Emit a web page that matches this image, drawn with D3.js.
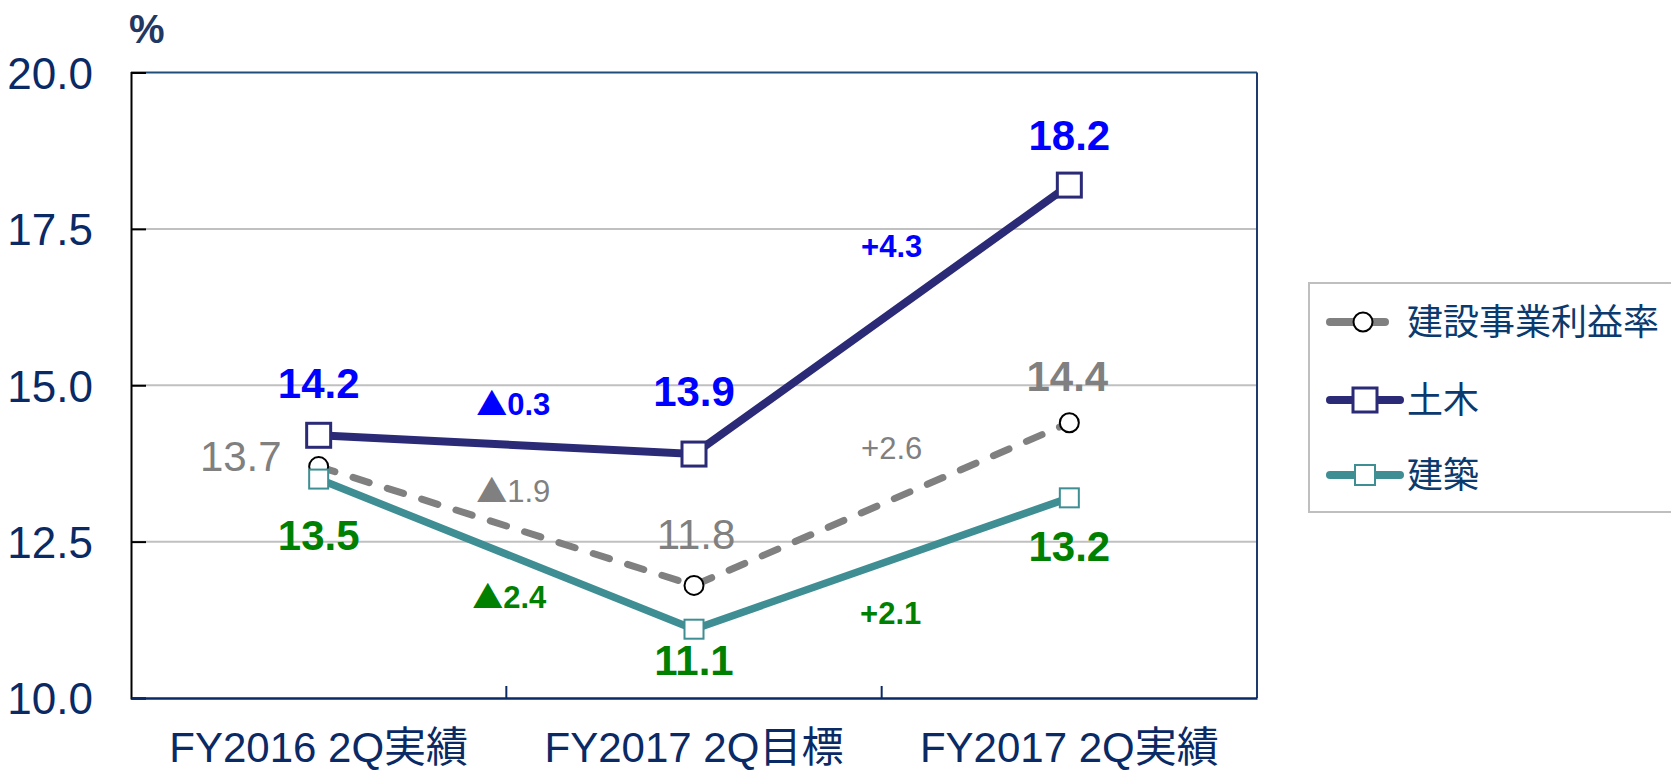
<!DOCTYPE html>
<html><head><meta charset="utf-8">
<script src="https://cdn.jsdelivr.net/npm/d3@7"></script>
<style>
body{margin:0;background:#fff;}
svg{display:block;}
.nar{font-family:"Liberation Sans Narrow","Arial Narrow","Liberation Sans","Noto Sans CJK JP",sans-serif;}
.jp{font-family:"Liberation Sans Narrow","Liberation Sans","Noto Sans CJK JP",sans-serif;}
</style></head>
<body>
<svg id="c" width="1671" height="772"></svg>
<script>
const categories = ["FY2016 2Q実績", "FY2017 2Q目標", "FY2017 2Q実績"];
const seriesNames = ["建設事業利益率", "土木", "建築"];
const rateValues = [13.7, 11.8, 14.4];
const dobokuValues = [14.2, 13.9, 18.2];
const kenchikuValues = [13.5, 11.1, 13.2];
const rateDeltas = ["▲1.9", "+2.6"];
const dobokuDeltas = ["▲0.3", "+4.3"];
const kenchikuDeltas = ["▲2.4", "+2.1"];
const yTicks = [10, 12.5, 15, 17.5, 20];

const svg = d3.select("#c");
const X0 = 131, X1 = 1257, Y0 = 72.5, Y1 = 698;
const x = d3.scaleBand().domain(categories).range([X0, X1]);
const y = d3.scaleLinear().domain([10, 20]).range([Y1, Y0]);
const cx = c => x(c) + x.bandwidth() / 2;

// gridlines
svg.append("g").selectAll("line").data(yTicks.filter(t => t > 10 && t < 20)).join("line")
  .attr("x1", X0).attr("x2", X1).attr("y1", d => y(d)).attr("y2", d => y(d))
  .attr("stroke", "#C0C0C0").attr("stroke-width", 2);

// plot border
svg.append("line").attr("x1", X0).attr("x2", X1).attr("y1", Y0).attr("y2", Y0).attr("stroke", "#1F4E79").attr("stroke-width", 2);
svg.append("line").attr("x1", X1).attr("x2", X1).attr("y1", Y0).attr("y2", Y1).attr("stroke", "#1F3A6E").attr("stroke-width", 2);

// y axis
const yAxis = d3.axisLeft(y).tickValues(yTicks).tickSize(-15).tickFormat(d3.format(".1f")).tickPadding(38);
const ya = svg.append("g").attr("transform", `translate(${X0},0)`).call(yAxis);
ya.select(".domain").attr("stroke", "#000").attr("stroke-width", 2);
ya.selectAll(".tick line").attr("stroke", "#000").attr("stroke-width", 2);
ya.selectAll(".tick text").attr("class", "nar").attr("fill", "#0A2A66").attr("font-size", 44).attr("dy", "0.36em");

// x axis
const xa = svg.append("g").attr("transform", `translate(0,${Y1})`)
  .call(d3.axisBottom(x).tickSize(0).tickPadding(0));
xa.select(".domain").attr("stroke", "#0A2A66").attr("stroke-width", 2.5);
xa.selectAll(".tick text").attr("class", "jp").attr("fill", "#0A2A66").attr("font-size", 42).attr("dy", 0).attr("y", 64);
// boundary ticks
svg.append("g").selectAll("line").data(categories.slice(1)).join("line")
  .attr("x1", d => x(d)).attr("x2", d => x(d)).attr("y1", Y1).attr("y2", Y1 - 12)
  .attr("stroke", "#0A2A66").attr("stroke-width", 2);

svg.append("text").attr("x", 129).attr("y", 43).attr("class", "nar").attr("font-weight", "bold")
  .attr("font-size", 40).attr("fill", "#1F3864").text("%");

const line = d3.line().x((d, i) => cx(categories[i])).y(d => y(d));

// gray dashed
svg.append("path").datum(rateValues).attr("d", line).attr("fill", "none")
  .attr("stroke", "#808080").attr("stroke-width", 7).attr("stroke-dasharray", "17,19").attr("stroke-linecap", "round");
svg.append("g").selectAll("circle").data(rateValues).join("circle")
  .attr("cx", (d, i) => cx(categories[i])).attr("cy", d => y(d)).attr("r", 9.5)
  .attr("fill", "#fff").attr("stroke", "#000").attr("stroke-width", 2);

// navy
svg.append("path").datum(dobokuValues).attr("d", line).attr("fill", "none")
  .attr("stroke", "#2B2A77").attr("stroke-width", 8);
svg.append("g").selectAll("rect").data(dobokuValues).join("rect")
  .attr("x", (d, i) => cx(categories[i]) - 12).attr("y", d => y(d) - 12).attr("width", 24).attr("height", 24)
  .attr("fill", "#fff").attr("stroke", "#2B2A77").attr("stroke-width", 3);

// teal
svg.append("path").datum(kenchikuValues).attr("d", line).attr("fill", "none")
  .attr("stroke", "#3E8E93").attr("stroke-width", 7.5);
svg.append("g").selectAll("rect").data(kenchikuValues).join("rect")
  .attr("x", (d, i) => cx(categories[i]) - 9.5).attr("y", d => y(d) - 9.5).attr("width", 19).attr("height", 19)
  .attr("fill", "#fff").attr("stroke", "#3E8E93").attr("stroke-width", 2);

// value labels
const fmt = d3.format(".1f");
function valueLabels(vals, color, dys, weights) {
  svg.append("g").selectAll("text").data(vals).join("text")
    .attr("class", "nar").attr("text-anchor", "middle")
    .attr("x", (d, i) => cx(categories[i])).attr("y", (d, i) => y(d) + dys[i])
    .attr("font-size", 42).attr("font-weight", (d, i) => weights[i]).attr("fill", color).text(d => fmt(d));
}
valueLabels(dobokuValues, "#0000FF", [-37, -48, -35], ["bold", "bold", "bold"]);
valueLabels(kenchikuValues, "#008000", [71, 46, 63], ["bold", "bold", "bold"]);
// gray labels
svg.append("g").selectAll("text").data(rateValues).join("text")
  .attr("class", "nar")
  .attr("text-anchor", (d, i) => i === 0 ? "end" : "middle")
  .attr("x", (d, i) => cx(categories[i]) + [-37, 2, -2][i])
  .attr("y", (d, i) => y(d) + [4, -36, -32][i])
  .attr("font-size", 42).attr("font-weight", (d, i) => i === 2 ? "bold" : "normal")
  .attr("fill", "#808080").text(d => fmt(d));

// delta labels
function deltaLabels(vals, deltas, color, weight, dys, dxs) {
  svg.append("g").selectAll("text").data(deltas).join("text")
    .attr("text-anchor", "middle")
    .attr("x", (d, i) => x(categories[i + 1]) + dxs[i])
    .attr("y", (d, i) => y((vals[i] + vals[i + 1]) / 2) + dys[i])
    .attr("font-size", 31).attr("font-weight", weight).attr("fill", color)
    .each(function (d) {
      const t = d3.select(this);
      const sym = d[0], rest = d.slice(1);
      if (sym === "▲") {
        t.append("tspan").attr("font-family", "Noto Sans CJK JP").attr("font-size", 31).text(sym);
        t.append("tspan").attr("font-family", "Liberation Sans").text(rest);
      } else {
        t.append("tspan").attr("font-family", "Liberation Sans").text(d);
      }
    });
}
deltaLabels(dobokuValues, dobokuDeltas, "#0000FF", "bold", [-30, -63], [7, 10]);
deltaLabels(rateValues, rateDeltas, "#808080", "normal", [-24, -45], [7, 10]);
deltaLabels(kenchikuValues, kenchikuDeltas, "#008000", "bold", [54, 60], [3, 9]);

// legend
const lg = svg.append("g");
lg.append("rect").attr("x", 1309).attr("y", 283).attr("width", 372).attr("height", 229)
  .attr("fill", "#fff").attr("stroke", "#BFBFBF").attr("stroke-width", 2);
const rowsY = [322, 400, 475];
const lgColors = ["#808080", "#2B2A77", "#3E8E93"];
seriesNames.forEach((n, i) => {
  const yy = rowsY[i];
  const x2 = i === 0 ? 1385 : 1400;
  lg.append("line").attr("x1", 1330).attr("x2", x2).attr("y1", yy).attr("y2", yy)
    .attr("stroke", lgColors[i]).attr("stroke-width", 8).attr("stroke-linecap", "round");
  if (i === 0) {
    lg.append("circle").attr("cx", 1363).attr("cy", yy).attr("r", 9.5).attr("fill", "#fff").attr("stroke", "#000").attr("stroke-width", 2);
  } else {
    const s = i === 1 ? 24 : 20;
    lg.append("rect").attr("x", 1365 - s / 2).attr("y", yy - s / 2).attr("width", s).attr("height", s)
      .attr("fill", "#fff").attr("stroke", lgColors[i]).attr("stroke-width", i === 1 ? 3 : 2);
  }
  lg.append("text").attr("x", 1407).attr("y", yy + 13).attr("font-family", "Noto Sans CJK JP")
    .attr("font-size", 36).attr("fill", "#0B3A6E").text(n);
});
</script>
</body></html>
